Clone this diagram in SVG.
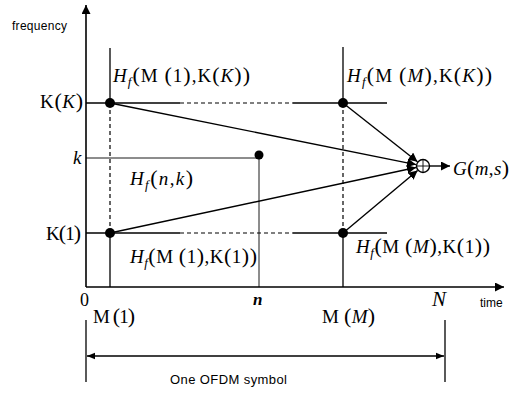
<svg xmlns="http://www.w3.org/2000/svg" width="513" height="394" viewBox="0 0 513 394">
<style>
.ax{stroke:#000;stroke-width:1.6;fill:none}
.ln{stroke:#000;stroke-width:1.3;fill:none}
.dash{stroke:#000;stroke-width:1.2;fill:none;stroke-dasharray:4 3}
.thin{stroke:#000;stroke-width:0.9;fill:none}
.con{stroke:#000;stroke-width:1.4;fill:none}
.m{font-family:"Liberation Serif","Times New Roman",serif;font-size:19px;fill:#000}
.s{font-family:"Liberation Sans",Arial,sans-serif;font-size:12px;fill:#000}
.i{font-style:italic}
.p{font-size:22px}
.sub{font-size:13px;font-style:italic}
.pt{fill:#000}
</style>
<defs>
<marker id="ah" viewBox="0 0 10 10" refX="10" refY="5" markerWidth="9" markerHeight="9" markerUnits="userSpaceOnUse" orient="auto">
<path d="M0,0 L10,5 L0,10 z" fill="#000"/>
</marker>
<marker id="ahs" viewBox="0 0 10 10" refX="10" refY="5" markerWidth="8" markerHeight="8" markerUnits="userSpaceOnUse" orient="auto-start-reverse">
<path d="M0,1 L10,5 L0,9 z" fill="#000"/>
</marker>
</defs>

<g id="axes">
<line class="ax" x1="86" y1="287" x2="86" y2="5" marker-end="url(#ah)"/>
<line class="ax" x1="86" y1="287" x2="504" y2="287" marker-end="url(#ah)"/>
<text class="s" x="12" y="30" textLength="55">frequency</text>
<text class="s" x="480" y="307">time</text>
<text class="m" x="80" y="306" style="font-size:18px">0</text>
</g>

<g id="grid">
<line class="ln" x1="110" y1="48" x2="110" y2="103"/>
<line class="dash" x1="110" y1="103" x2="110" y2="233"/>
<line class="ln" x1="110" y1="233" x2="110" y2="287"/>
<line class="ln" x1="343" y1="47" x2="343" y2="103"/>
<line class="dash" x1="343" y1="103" x2="343" y2="233"/>
<line class="ln" x1="343" y1="233" x2="343" y2="287"/>
<line class="ln" x1="86" y1="103" x2="180" y2="103"/>
<line class="dash" x1="180" y1="103" x2="293" y2="103"/>
<line class="ln" x1="293" y1="103" x2="387" y2="103"/>
<line class="ln" x1="86" y1="233" x2="180" y2="233"/>
<line class="dash" x1="180" y1="233" x2="293" y2="233"/>
<line class="ln" x1="293" y1="233" x2="387" y2="233"/>
<line class="thin" x1="86" y1="158" x2="258" y2="158"/>
<line class="thin" x1="259" y1="156" x2="259" y2="287"/>
<text class="m i" x="73" y="164">k</text>
<text class="m" x="40" y="108" textLength="43">K<tspan class="p">(</tspan><tspan class="i">K</tspan><tspan class="p">)</tspan></text>
<text class="m" x="46" y="240" textLength="35">K<tspan class="p">(</tspan>1<tspan class="p">)</tspan></text>
<text class="m i" x="253" y="305" style="font-weight:bold;font-size:17px">n</text>
<text class="m i" x="432" y="306" style="font-size:21px">N</text>
<text class="m" x="93" y="323" textLength="42">M <tspan class="p">(</tspan>1<tspan class="p">)</tspan></text>
<text class="m" x="322" y="323" textLength="53">M <tspan class="p">(</tspan><tspan class="i">M</tspan><tspan class="p">)</tspan></text>
</g>

<g id="node-M1-KK">
<circle class="pt" cx="110" cy="103" r="5"/>
<text class="m" x="113" y="82" textLength="137"><tspan class="i">H</tspan><tspan class="sub" dy="4">f</tspan><tspan class="p" dy="-4">(</tspan>M <tspan class="p">(</tspan>1<tspan class="p">)</tspan>,K<tspan class="p">(</tspan><tspan class="i">K</tspan><tspan class="p">))</tspan></text>
</g>
<g id="node-MM-KK">
<circle class="pt" cx="343" cy="103" r="5"/>
<text class="m" x="347" y="82" textLength="145"><tspan class="i">H</tspan><tspan class="sub" dy="4">f</tspan><tspan class="p" dy="-4">(</tspan>M <tspan class="p">(</tspan><tspan class="i">M</tspan><tspan class="p">)</tspan>,K<tspan class="p">(</tspan><tspan class="i">K</tspan><tspan class="p">))</tspan></text>
</g>
<g id="node-n-k">
<circle class="pt" cx="259" cy="155" r="4.5"/>
<text class="m" x="130" y="185" textLength="63"><tspan class="i">H</tspan><tspan class="sub" dy="4">f</tspan><tspan class="p" dy="-4">(</tspan><tspan class="i">n</tspan>,<tspan class="i">k</tspan><tspan class="p">)</tspan></text>
</g>
<g id="node-M1-K1">
<circle class="pt" cx="110" cy="233" r="5"/>
<text class="m" x="130" y="263" textLength="127"><tspan class="i">H</tspan><tspan class="sub" dy="4">f</tspan><tspan class="p" dy="-4">(</tspan>M <tspan class="p">(</tspan>1<tspan class="p">)</tspan>,K<tspan class="p">(</tspan>1<tspan class="p">))</tspan></text>
</g>
<g id="node-MM-K1">
<circle class="pt" cx="343" cy="233" r="5"/>
<text class="m" x="356" y="253" textLength="134"><tspan class="i">H</tspan><tspan class="sub" dy="4">f</tspan><tspan class="p" dy="-4">(</tspan>M <tspan class="p">(</tspan><tspan class="i">M</tspan><tspan class="p">)</tspan>,K<tspan class="p">(</tspan>1<tspan class="p">))</tspan></text>
</g>
<g id="node-sum">
<circle cx="423" cy="166" r="6.5" fill="#fff" stroke="#000" stroke-width="1.4"/>
<line class="thin" x1="416.5" y1="166" x2="429.5" y2="166"/>
<line class="thin" x1="423" y1="159.5" x2="423" y2="172.5"/>
</g>
<g id="node-G">
<text class="m" x="453" y="175" textLength="56"><tspan class="i">G</tspan><tspan class="p">(</tspan><tspan class="i">m</tspan>,<tspan class="i">s</tspan><tspan class="p">)</tspan></text>
</g>

<g id="connectors">
<line class="con" x1="110" y1="103" x2="416" y2="164.6" marker-end="url(#ah)"/>
<line class="con" x1="110" y1="233" x2="416" y2="167.5" marker-end="url(#ah)"/>
<line class="con" x1="343" y1="103" x2="417.5" y2="161.7" marker-end="url(#ah)"/>
<line class="con" x1="343" y1="233" x2="417.6" y2="170.5" marker-end="url(#ah)"/>
<line class="con" x1="429.5" y1="166" x2="450" y2="166" marker-end="url(#ah)"/>
</g>

<g id="symbol-span">
<line class="ln" x1="86" y1="320" x2="86" y2="382"/>
<line class="ln" x1="445" y1="320" x2="445" y2="382"/>
<line class="ln" x1="87" y1="356" x2="444" y2="356" marker-start="url(#ahs)" marker-end="url(#ahs)"/>
<text class="s" x="170" y="384" style="font-size:13px" textLength="117">One OFDM symbol</text>
</g>
</svg>
